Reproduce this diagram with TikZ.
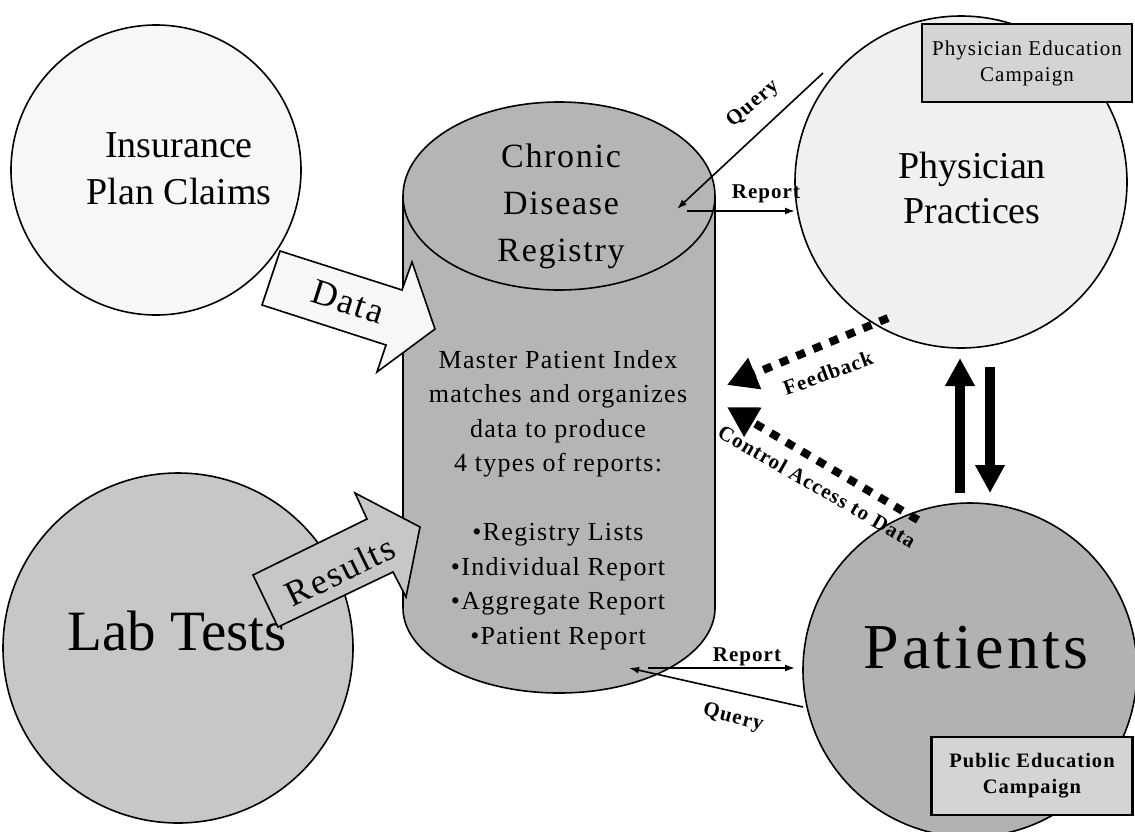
\documentclass[tikz,border=0pt]{standalone}
\usepackage{fontspec}
\setmainfont{Liberation Serif}
\newfontfamily\widefont[LetterSpace=5]{Liberation Serif}
\usetikzlibrary{arrows.meta,positioning}
\definecolor{insfill}{gray}{0.97}
\definecolor{labfill}{gray}{0.78}
\definecolor{cylfill}{gray}{0.71}
\definecolor{physfill}{gray}{0.94}
\definecolor{patfill}{gray}{0.70}
\definecolor{boxfill}{gray}{0.83}

\begin{document}
\begin{tikzpicture}[x=1pt,y=-1pt]
\tikzset{every node/.style={align=center,inner sep=0pt}}
\tikzset{bubble/.style={circle,draw,line width=1.6pt,minimum size=#1}}
\tikzset{banner/.style={rectangle,draw,line width=2.2pt,fill=boxfill,minimum width=#1,minimum height=78pt,font=\widefont\fontsize{21}{26}\selectfont}}
\tikzset{blockarrow/.style={draw,line width=1.6pt,line join=miter}}
\tikzset{link/.style={line width=1.6pt,-{Latex[length=10pt,width=7pt]}}}
\tikzset{tag/.style={font=\widefont\fontsize{21}{24}\selectfont\bfseries}}
\tikzset{dotlink/.style={line width=8pt,dash pattern=on 9pt off 9pt,-{Triangle[length=30pt,width=32pt]}}}
\tikzset{fatlink/.style={line width=10pt,-{Triangle[length=28pt,width=28pt]}}}
\useasboundingbox (0,0) rectangle (1135,831);
\clip (0,0) rectangle (1135,831);

% sources
\node[bubble=290pt,fill=insfill] (ins) at (156,170) {};
\node[font=\fontsize{38}{47}\selectfont] (insname) at (179,169) {Insurance\\Plan Claims};
\node[bubble=350pt,fill=labfill] (lab) at (178,648) {};
\node[font=\fontsize{57}{66}\selectfont] (labname) at (177,631) {Lab Tests};

% registry
\draw[line width=1.6pt,fill=cylfill] (403,196) -- (403,608)
  arc[start angle=180,end angle=0,x radius=156,y radius=85] -- (715,196);
\draw[line width=1.6pt,fill=cylfill] (559,196) ellipse[x radius=156,y radius=94];
\node[font=\widefont\fontsize{34}{47}\selectfont] (reg) at (561,206) {Chronic\\Disease\\Registry};
\node[font=\widefont\fontsize{26}{34.5}\selectfont] (mpi) at (558,500) {Master Patient Index\\matches and organizes\\data to produce\\4 types of reports:\\[34.5pt]•Registry Lists\\•Individual Report\\•Aggregate Report\\•Patient Report};

% users
\node[bubble=332pt,fill=physfill] (phys) at (961,182) {};
\node[font=\fontsize{38}{45}\selectfont] (physname) at (972,188) {Physician\\Practices};
\node[banner=210pt] (physcamp) at (1027,63) {Physician Education\\Campaign};
\node[bubble=334pt,fill=patfill] (pat) at (970,670) {};
\node[font=\widefont\fontsize{64}{66}\selectfont] (patname) at (976,648) {Patients};
\node[banner=201pt,font=\widefont\fontsize{20.5}{26}\selectfont\bfseries] (pubcamp) at (1032,776) {Public Education\\Campaign};

% block arrows
\draw[blockarrow,fill=insfill] (280,251) -- (402,290) -- (412,262) -- (435,329)
  -- (377,372) -- (386,345) -- (262,305) -- cycle;
\node[font=\widefont\fontsize{36}{36}\selectfont,rotate=-17.7] (datatag) at (348,302) {Data};
\draw[blockarrow,fill=labfill] (253,575) -- (367,519) -- (355,493) -- (420,527)
  -- (406,597) -- (393,572) -- (278,627) -- cycle;
\node[font=\widefont\fontsize{36}{36}\selectfont,rotate=26] (restag) at (340,571) {Results};

% query / report
\coordinate (q1) at (823,73);  \coordinate (q2) at (677,209);
\coordinate (r1) at (687,211); \coordinate (r2) at (795,211);
\coordinate (r3) at (648,668); \coordinate (r4) at (795,668);
\coordinate (q3) at (803,707); \coordinate (q4) at (629,668);
\draw[link] (q1) -- (q2);
\draw[link] (r1) -- (r2);
\draw[link] (r3) -- (r4);
\draw[link] (q3) -- (q4);
\node[tag,rotate=40] (q1tag) at (753,104) {Query};
\node[tag] (r1tag) at (766,194) {Report};
\node[tag] (r3tag) at (747,657) {Report};
\node[tag,rotate=-15] (q3tag) at (733,718) {Query};

% feedback
\coordinate (f1) at (888,318); \coordinate (f2) at (727,385);
\coordinate (c1) at (918,520); \coordinate (c2) at (727,407);
\draw[dotlink] (f1) -- (f2);
\draw[dotlink] (c1) -- (c2);
\node[tag,rotate=20] (ftag) at (828,373) {Feedback};
\node[tag,rotate=-30] (ctag) at (817,486) {Control Access to Data};

% two way
\coordinate (u1) at (960,493); \coordinate (u2) at (960,358);
\coordinate (d1) at (990,367); \coordinate (d2) at (990,493);
\draw[fatlink] (u1) -- (u2);
\draw[fatlink] (d1) -- (d2);
\end{tikzpicture}
\end{document}
